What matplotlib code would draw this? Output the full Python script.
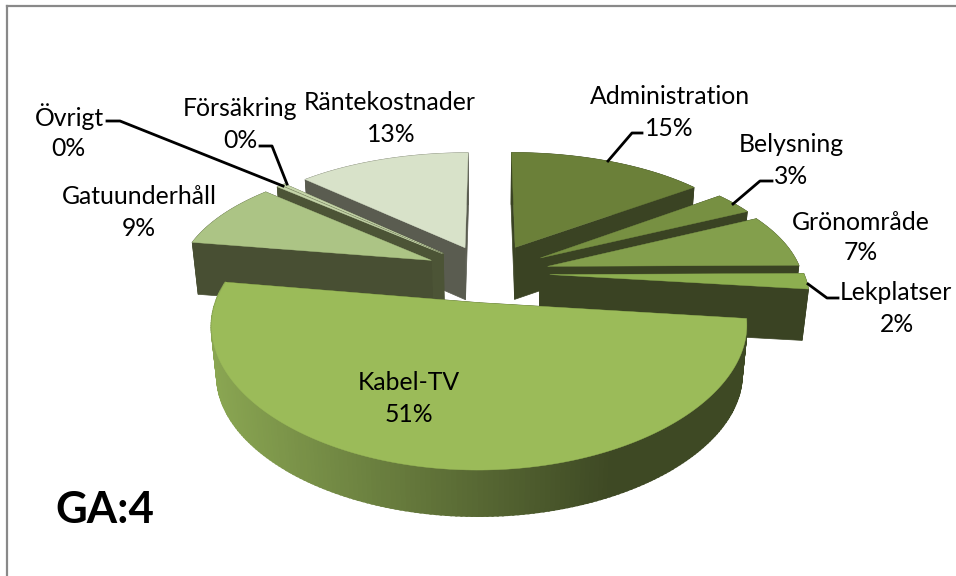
import numpy as np
import matplotlib
matplotlib.use("Agg")
import matplotlib.pyplot as plt
from matplotlib.colors import to_rgb

plt.rcParams['font.family'] = ['Lato', 'DejaVu Sans']

categories = ["Administration", "Belysning", "Grönområde", "Lekplatser", "Kabel-TV",
              "Gatuunderhåll", "Övrigt", "Försäkring", "Räntekostnader"]
values = [15, 3, 7, 2, 51, 8.9, 0.3, 0.3, 13.1]
top_colors = ["#6b8039", "#779042", "#839f4c", "#8daf50", "#9bbb59",
              "#acc485", "#c5d5a9", "#c5d5a9", "#d8e2c9"]
wall_colors = ["#3a4323", "#3a4323", "#3a4323", "#3a4323", "#3f4a24",
               "#484f33", "#4c5436", "#4c5436", "#5a5c50"]
explode = [0.245, 0.245, 0.243, 0.243, 0.235, 0.25, 0.245, 0.245, 0.235]
draw_order = [8, 7, 6, 0, 1, 2, 5, 3, 4]

CX, CY, RX, RY, PX, PY = 488.0, 273.0, 254.0, 122.0, 0.16, 0.192

fig = plt.figure(figsize=(9.56, 5.76), dpi=100)
ax = fig.add_axes([0, 0, 1, 1])
ax.set_xlim(0, 956)
ax.set_ylim(576, 0)
ax.axis('off')


def project(gx, gy):
    return CX + RX * gx / (1 + PX * gy), CY - RY * gy / (1 + PY * gy)


def drop(px, py, gy):
    d = 52 + 6 * np.minimum(gy, 0) / 1.2
    return CX + (px - CX) * 0.98, py + d


total = sum(values)
edges = np.concatenate([[0], np.cumsum(values)]) / total * 2 * np.pi

rim_light = np.array(to_rgb("#8aa652"))
rim_dark = np.array(to_rgb("#3e4924"))

for i in draw_order:
    a0, a1 = edges[i], edges[i + 1]
    mid = (a0 + a1) / 2
    ox, oy = explode[i] * np.sin(mid), explode[i] * np.cos(mid)
    ang = np.linspace(a0, a1, max(3, int((a1 - a0) * 60)))
    gx = ox + np.sin(ang)
    gy = oy + np.cos(ang)
    px, py = project(gx, gy)
    bx, by = drop(px, py, gy)
    ax_, ay_ = project(ox, oy)
    abx, aby = drop(ax_, ay_, oy)
    wall = wall_colors[i]
    ax.fill([ax_, px[0], bx[0], abx], [ay_, py[0], by[0], aby], color=wall, lw=0.5, zorder=2)
    ax.fill([ax_, px[-1], bx[-1], abx], [ay_, py[-1], by[-1], aby], color=wall, lw=0.5, zorder=2)
    if categories[i] == "Kabel-TV":
        for k in range(len(ang) - 1):
            xm = (px[k] + px[k + 1]) / 2
            t = np.clip((xm - 210) / (610 - 210), 0, 1)
            c = rim_light * (1 - t) + rim_dark * t
            ax.fill([px[k], px[k + 1], bx[k + 1], bx[k]], [py[k], py[k + 1], by[k + 1], by[k]],
                    color=c, lw=1.6, zorder=2)
    else:
        ax.fill(np.r_[px, bx[::-1]], np.r_[py, by[::-1]], color=wall, lw=0.5, zorder=2)
    ax.fill(np.r_[ax_, px], np.r_[ay_, py], color=top_colors[i], lw=0.3, zorder=2)

pct = [f"{round(v / total * 100):d}%" for v in values]
label_pos = {"Administration": (670, 96, 669, 128), "Belysning": (791, 145, 791, 177),
             "Grönområde": (861, 222, 861, 252), "Lekplatser": (896, 293, 897, 325),
             "Kabel-TV": (409, 383, 409, 415), "Gatuunderhåll": (139, 197, 139, 229),
             "Övrigt": (69, 117, 68, 148), "Försäkring": (240, 108, 240, 140),
             "Räntekostnader": (390, 102, 391, 134)}
for name, p in zip(categories, pct):
    x0, y0, x1, y1 = label_pos[name]
    ax.text(x0, y0, name, ha='center', va='center', fontsize=17.8, color='black', zorder=5)
    ax.text(x1, y1, p, ha='center', va='center', fontsize=17.8, color='black', zorder=5)

leaders = [([608, 632, 642], [161, 133, 133]), ([733, 760, 772], [204, 181, 181]),
           ([808, 827, 838], [284, 298, 298]), ([107, 120, 283], [121, 121, 186]),
           ([260, 272, 287], [146, 146, 184])]
for lx, ly in leaders:
    ax.plot(lx, ly, color='black', lw=2, solid_joinstyle='round', zorder=3)

ax.text(55, 510, "GA:4", fontsize=31.5, fontweight='bold', va='center', ha='left', color='black', zorder=5)

ax.plot([7, 7], [576, 6], color="#898989", lw=1.6, zorder=1)
ax.plot([7, 956], [6, 6], color="#898989", lw=1.6, zorder=1)

fig.savefig("out.png", dpi=100)
